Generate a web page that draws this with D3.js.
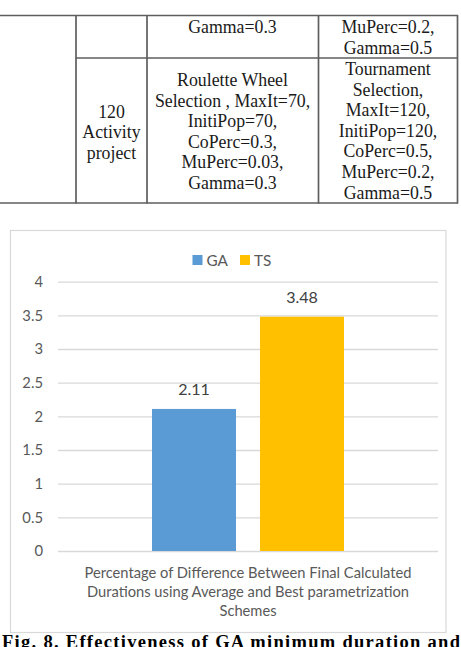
<!DOCTYPE html>
<html>
<head>
<meta charset="utf-8">
<script src="https://cdn.jsdelivr.net/npm/d3@7"></script>
<style>
html,body{margin:0;padding:0;background:#fff;}
svg{display:block;}
</style>
</head>
<body>
<script>
// ---- data ----
const categories = ["Percentage of Difference Between Final Calculated Durations using Average and Best parametrization Schemes"];
const categoryLines = ["Percentage of Difference Between Final Calculated", "Durations using Average and Best parametrization", "Schemes"];
const series = ["GA", "TS"];
const values = [2.11, 3.48];
const yTicks = [0, 0.5, 1, 1.5, 2, 2.5, 3, 3.5, 4];
const colors = ["#5b9bd5", "#ffc000"];

// table text (cells)
const topGaText = ["Gamma=0.3"];
const topTsText = ["MuPerc=0.2,", "Gamma=0.5"];
const projText = ["120", "Activity", "project"];
const gaText = ["Roulette Wheel", "Selection , MaxIt=70,", "InitiPop=70,", "CoPerc=0.3,", "MuPerc=0.03,", "Gamma=0.3"];
const tsText = ["Tournament", "Selection,", "MaxIt=120,", "InitiPop=120,", "CoPerc=0.5,", "MuPerc=0.2,", "Gamma=0.5"];
const caption = "Fig. 8. Effectiveness of GA minimum duration and";

const W = 461, H = 647;
const svg = d3.select("body").append("svg").attr("width", W).attr("height", H);

// ---- table ----
const tg = svg.append("g");
const lineC = "#5e5e5e";
const hl = (x1, x2, y) => tg.append("line").attr("x1", x1).attr("x2", x2).attr("y1", y).attr("y2", y).attr("stroke", lineC).attr("stroke-width", 1.7);
const vl = (x, y1, y2) => tg.append("line").attr("x1", x).attr("x2", x).attr("y1", y1).attr("y2", y2).attr("stroke", lineC).attr("stroke-width", 1.7);
hl(0, 458, 15.5);
hl(76, 458, 58);
hl(0, 458, 203);
vl(76, 15, 203.5);
vl(147, 15, 203.5);
vl(318.5, 15, 203.5);
vl(457.5, 15, 203.5);

function cellText(lines, cx, firstY, lh) {
  tg.append("g").selectAll("text").data(lines).join("text")
    .attr("x", cx).attr("y", (d, i) => firstY + i * lh)
    .attr("text-anchor", "middle")
    .attr("font-family", "'Liberation Serif', 'Times New Roman', serif")
    .attr("font-size", 17.8).attr("fill", "#1a1a1a")
    .text(d => d);
}
const LH = 20.6;
cellText(topGaText, 232.5, 33, LH);
cellText(topTsText, 388, 33, LH);
cellText(projText, 111.5, 117.5, LH);
cellText(gaText, 232.5, 86, LH);
cellText(tsText, 388, 75, LH);

// ---- chart box ----
svg.append("rect").attr("x", 10.5).attr("y", 230.5).attr("width", 435.5).attr("height", 402)
  .attr("fill", "#fff").attr("stroke", "#d9d9d9").attr("stroke-width", 1.2);

const plot = {left: 58, right: 438, top: 281.7, bottom: 551};
const y = d3.scaleLinear().domain([0, 4]).range([plot.bottom, plot.top]);
const x0 = d3.scaleBand().domain(categories).range([plot.left, plot.right]).paddingInner(0).paddingOuter(0.4896);
const x1 = d3.scaleBand().domain(series).range([0, x0.bandwidth()]).paddingInner(0.222).paddingOuter(0);

const sansFont = "Lato, 'Open Sans', sans-serif";
const grey = "#595959";

// gridlines + axis labels
const yAxis = d3.axisLeft(y).tickValues(yTicks).tickSize(-(plot.right - plot.left)).tickPadding(15).tickFormat(d3.format("~g"));
const ga = svg.append("g").attr("transform", `translate(${plot.left},0)`).call(yAxis);
ga.select(".domain").remove();
ga.selectAll(".tick line").attr("stroke", "#d9d9d9").attr("stroke-width", 1.3);
ga.selectAll(".tick text").attr("font-family", sansFont).attr("font-size", 14.8).attr("fill", grey);

// bars
const cat = categories[0];
const bars = svg.append("g");
bars.selectAll("rect").data(values).join("rect")
  .attr("x", (d, i) => x0(cat) + x1(series[i]))
  .attr("y", d => y(d))
  .attr("width", x1.bandwidth())
  .attr("height", d => y(0) - y(d))
  .attr("fill", (d, i) => colors[i]);

// value labels
bars.selectAll("text").data(values).join("text")
  .attr("x", (d, i) => x0(cat) + x1(series[i]) + x1.bandwidth() / 2)
  .attr("y", d => y(d) - 13.5)
  .attr("text-anchor", "middle")
  .attr("font-family", sansFont).attr("font-size", 16).attr("fill", "#404040")
  .text(d => d.toFixed(2));

// category label
const cx = x0(cat) + x0.bandwidth() / 2;
svg.append("g").selectAll("text").data(categoryLines).join("text")
  .attr("x", cx).attr("y", (d, i) => 577.5 + i * 19.3)
  .attr("text-anchor", "middle")
  .attr("font-family", sansFont).attr("font-size", 14.7).attr("fill", grey)
  .text(d => d);

// legend
const legX = [192.5, 240];
const lg = svg.append("g");
series.forEach((s, i) => {
  lg.append("rect").attr("x", legX[i]).attr("y", 255).attr("width", 10).attr("height", 10).attr("fill", colors[i]);
  lg.append("text").attr("x", legX[i] + 14).attr("y", 265.5)
    .attr("font-family", sansFont).attr("font-size", 15.3).attr("fill", grey).text(s);
});

// caption (cut off at bottom, as in the reference)
svg.append("text").attr("x", 2).attr("y", 648)
  .attr("font-family", "'Liberation Serif', 'Times New Roman', serif")
  .attr("font-weight", "bold").attr("font-size", 18.5).attr("fill", "#000")
  .attr("textLength", 458).attr("lengthAdjust", "spacing")
  .text(caption);
</script>
</body>
</html>
